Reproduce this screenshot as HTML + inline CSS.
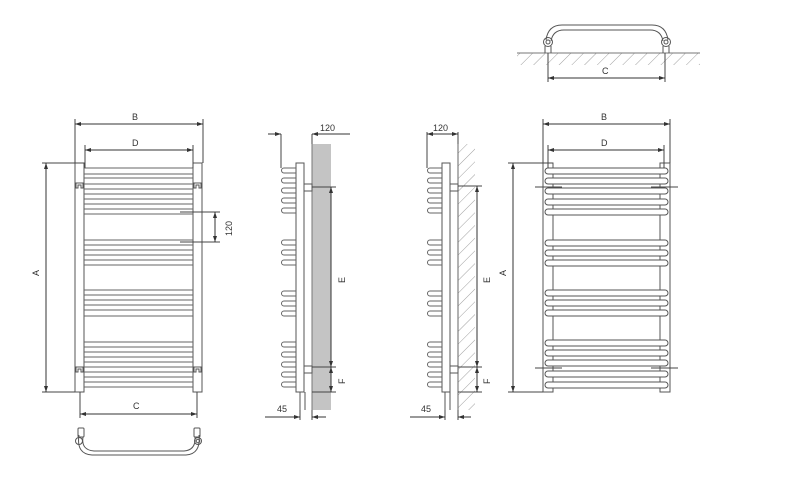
<!DOCTYPE html>
<html><head><meta charset="utf-8"><style>
html,body{margin:0;padding:0;background:#fff}
svg{display:block}
text{font-family:"Liberation Sans",sans-serif;font-size:9px;fill:#333}
</style></head><body>
<svg width="796" height="492" viewBox="0 0 796 492" xmlns="http://www.w3.org/2000/svg">
<defs>
<marker id="ar" markerWidth="6" markerHeight="6" refX="6" refY="3" orient="auto-start-reverse" markerUnits="userSpaceOnUse"><path d="M0,1 L6,3 L0,5z" fill="#333"/></marker>
<pattern id="hat" width="9" height="9" patternUnits="userSpaceOnUse" patternTransform="rotate(45)"><line x1="0" y1="0" x2="0" y2="9" stroke="#888" stroke-width="0.8"/></pattern>
</defs>
<g fill="none" stroke="#555" stroke-width="1">

<!-- ===== LEFT FRONT VIEW ===== -->
<rect x="75" y="163" width="9" height="229"/>
<rect x="193" y="163" width="9" height="229"/>
<g stroke="#666">
<path d="M84 168H193M84 174H193M84 178H193M84 184H193M84 189H193M84 194H193M84 199H193M84 204H193M84 209H193M84 214H193"/>
<path d="M84 240H193M84 245H193M84 250H193M84 255H193M84 260H193M84 265H193"/>
<path d="M84 290H193M84 295H193M84 300H193M84 305H193M84 310H193M84 316H193"/>
<path d="M84 342H193M84 347H193M84 352H193M84 357H193M84 362H193M84 367H193M84 372H193M84 377H193M84 382H193M84 387H193"/>
</g>
<!-- brackets -->
<path d="M76 188v-5h7v5h-2v-3h-3v3z"/><path d="M194 188v-5h7v5h-2v-3h-3v3z"/>
<path d="M76 372v-5h7v5h-2v-3h-3v3z"/><path d="M194 372v-5h7v5h-2v-3h-3v3z"/>
<!-- dims -->
<path d="M75 119V163M203 119V163M85 145V168M193 145V168" stroke="#444"/>
<line x1="75" y1="124" x2="203" y2="124" stroke="#333" marker-start="url(#ar)" marker-end="url(#ar)"/>
<line x1="85" y1="150" x2="193" y2="150" stroke="#333" marker-start="url(#ar)" marker-end="url(#ar)"/>
<path d="M42 163H85M42 392H75" stroke="#444"/>
<line x1="46" y1="163" x2="46" y2="392" stroke="#333" marker-start="url(#ar)" marker-end="url(#ar)"/>
<path d="M180 212H220M180 242H220" stroke="#444"/>
<line x1="215" y1="212" x2="215" y2="242" stroke="#333" marker-start="url(#ar)" marker-end="url(#ar)"/>
<path d="M80 392V418M197 392V418" stroke="#444"/>
<line x1="80" y1="414" x2="197" y2="414" stroke="#333" marker-start="url(#ar)" marker-end="url(#ar)"/>
<!-- bottom handle -->
<path d="M79 435 Q76 454 92 455 H186 Q201 454 199 435" stroke-width="1"/>
<path d="M83 437 Q81 450 94 451 H184 Q196 450 195 437"/>
<rect x="78" y="428" width="6" height="9" rx="1"/><rect x="194" y="428" width="6" height="9" rx="1"/>
<circle cx="79" cy="441" r="3.5"/><circle cx="198" cy="441" r="3.5"/><circle cx="198" cy="441" r="1.8"/>

<!-- ===== SIDE VIEW 1 (grey wall) ===== -->
<rect x="312" y="144" width="19" height="266" fill="#c4c4c4" stroke="none"/>
<line x1="312" y1="144" x2="312" y2="410" stroke="#777"/>
<rect x="296" y="163" width="8" height="229"/>
<rect x="304" y="184" width="8" height="7"/><rect x="304" y="366" width="8" height="7"/>
<path d="M300 392V410M305 392V410"/>
<g stroke="#666">
<path d="M296 168H284a2.5 2.5 0 0 0 0 5H296M296 178H284a2.5 2.5 0 0 0 0 5H296M296 188H284a2.5 2.5 0 0 0 0 5H296M296 198H284a2.5 2.5 0 0 0 0 5H296M296 208H284a2.5 2.5 0 0 0 0 5H296"/>
<path d="M296 240H284a2.5 2.5 0 0 0 0 5H296M296 250H284a2.5 2.5 0 0 0 0 5H296M296 260H284a2.5 2.5 0 0 0 0 5H296"/>
<path d="M296 291H284a2.5 2.5 0 0 0 0 5H296M296 301H284a2.5 2.5 0 0 0 0 5H296M296 311H284a2.5 2.5 0 0 0 0 5H296"/>
<path d="M296 342H284a2.5 2.5 0 0 0 0 5H296M296 352H284a2.5 2.5 0 0 0 0 5H296M296 362H284a2.5 2.5 0 0 0 0 5H296M296 372H284a2.5 2.5 0 0 0 0 5H296M296 382H284a2.5 2.5 0 0 0 0 5H296"/>
</g>
<path d="M281 134V168M312 134V144" stroke="#444"/>
<line x1="268" y1="134" x2="281" y2="134" stroke="#333" marker-end="url(#ar)"/>
<line x1="312" y1="134" x2="350" y2="134" stroke="#333" marker-start="url(#ar)"/>
<path d="M312 187H336M312 367H336M312 392H336" stroke="#444"/>
<line x1="331" y1="187" x2="331" y2="367" stroke="#333" marker-start="url(#ar)" marker-end="url(#ar)"/>
<line x1="331" y1="367" x2="331" y2="392" stroke="#333" marker-start="url(#ar)" marker-end="url(#ar)"/>
<path d="M300 410V420M312 410V420" stroke="#444"/>
<line x1="265" y1="417" x2="300" y2="417" stroke="#333" marker-end="url(#ar)"/>
<line x1="312" y1="417" x2="326" y2="417" stroke="#333" marker-start="url(#ar)"/>

<!-- ===== SIDE VIEW 2 (hatched wall) ===== -->
<rect x="458" y="144" width="17" height="266" fill="url(#hat)" stroke="none"/>
<line x1="458" y1="144" x2="458" y2="410" stroke="#666"/>
<rect x="442" y="163" width="8" height="229"/>
<rect x="450" y="184" width="8" height="7"/><rect x="450" y="366" width="8" height="7"/>
<path d="M445 392V410M450 392V410"/>
<g stroke="#666">
<path d="M442 168H430a2.5 2.5 0 0 0 0 5H442M442 178H430a2.5 2.5 0 0 0 0 5H442M442 188H430a2.5 2.5 0 0 0 0 5H442M442 198H430a2.5 2.5 0 0 0 0 5H442M442 208H430a2.5 2.5 0 0 0 0 5H442"/>
<path d="M442 240H430a2.5 2.5 0 0 0 0 5H442M442 250H430a2.5 2.5 0 0 0 0 5H442M442 260H430a2.5 2.5 0 0 0 0 5H442"/>
<path d="M442 291H430a2.5 2.5 0 0 0 0 5H442M442 301H430a2.5 2.5 0 0 0 0 5H442M442 311H430a2.5 2.5 0 0 0 0 5H442"/>
<path d="M442 342H430a2.5 2.5 0 0 0 0 5H442M442 352H430a2.5 2.5 0 0 0 0 5H442M442 362H430a2.5 2.5 0 0 0 0 5H442M442 372H430a2.5 2.5 0 0 0 0 5H442M442 382H430a2.5 2.5 0 0 0 0 5H442"/>
</g>
<path d="M427 132V168M458 132V144" stroke="#444"/>
<line x1="427" y1="134" x2="458" y2="134" stroke="#333" marker-start="url(#ar)" marker-end="url(#ar)"/>
<path d="M458 186H482M458 367H482M458 392H482" stroke="#444"/>
<line x1="477" y1="186" x2="477" y2="367" stroke="#333" marker-start="url(#ar)" marker-end="url(#ar)"/>
<line x1="477" y1="367" x2="477" y2="392" stroke="#333" marker-start="url(#ar)" marker-end="url(#ar)"/>
<path d="M445 410V420M458 410V420" stroke="#444"/>
<line x1="410" y1="417" x2="445" y2="417" stroke="#333" marker-end="url(#ar)"/>
<line x1="458" y1="417" x2="471" y2="417" stroke="#333" marker-start="url(#ar)"/>

<!-- ===== RIGHT FRONT VIEW ===== -->
<rect x="543" y="163" width="10" height="229"/>
<rect x="660" y="163" width="10" height="229"/>
<g fill="#fff" stroke="#555">
<rect x="545" y="168" width="123" height="6" rx="3"/><rect x="545" y="178" width="123" height="6" rx="3"/><rect x="545" y="188" width="123" height="6" rx="3"/><rect x="545" y="199" width="123" height="6" rx="3"/><rect x="545" y="209" width="123" height="6" rx="3"/>
<rect x="545" y="240" width="123" height="6" rx="3"/><rect x="545" y="250" width="123" height="6" rx="3"/><rect x="545" y="260" width="123" height="6" rx="3"/>
<rect x="545" y="290" width="123" height="6" rx="3"/><rect x="545" y="300" width="123" height="6" rx="3"/><rect x="545" y="310" width="123" height="6" rx="3"/>
<rect x="545" y="340" width="123" height="6" rx="3"/><rect x="545" y="350" width="123" height="6" rx="3"/><rect x="545" y="360" width="123" height="6" rx="3"/><rect x="545" y="371" width="123" height="6" rx="3"/><rect x="545" y="382" width="123" height="6" rx="3"/>
</g>
<path d="M535 187H562M651 187H678M535 368H562M651 368H678" stroke="#444"/>
<path d="M543 119V163M670 119V163M548 145V168M664 145V168" stroke="#444"/>
<line x1="543" y1="124" x2="670" y2="124" stroke="#333" marker-start="url(#ar)" marker-end="url(#ar)"/>
<line x1="548" y1="150" x2="664" y2="150" stroke="#333" marker-start="url(#ar)" marker-end="url(#ar)"/>
<path d="M508 163H553M508 392H543" stroke="#444"/>
<line x1="513" y1="163" x2="513" y2="392" stroke="#333" marker-start="url(#ar)" marker-end="url(#ar)"/>

<!-- ===== TOP VIEW C ===== -->
<rect x="517" y="53" width="183" height="12" fill="url(#hat)" stroke="none"/>
<line x1="517" y1="53" x2="700" y2="53" stroke="#777"/>
<path d="M546 40 Q548 25 562 25 H652 Q666 25 668 40"/>
<path d="M551 41 Q553 30 564 30 H650 Q661 30 663 41"/>
<circle cx="548" cy="42" r="4.5"/><circle cx="548" cy="42" r="2"/>
<circle cx="666" cy="42" r="4.5"/><circle cx="666" cy="42" r="2"/>
<path d="M545 46V53M551 46V53M663 46V53M669 46V53"/>
<path d="M548 53V82M665 53V82" stroke="#444"/>
<line x1="548" y1="78" x2="665" y2="78" stroke="#333" marker-start="url(#ar)" marker-end="url(#ar)"/>
</g>

<!-- labels -->
<text x="132" y="120">B</text>
<text x="132" y="146">D</text>
<text x="133" y="409">C</text>
<text x="0" y="0" transform="translate(39,276) rotate(-90)">A</text>
<text x="0" y="0" transform="translate(232,236) rotate(-90)">120</text>
<text x="320" y="131">120</text>
<text x="0" y="0" transform="translate(345,283) rotate(-90)">E</text>
<text x="0" y="0" transform="translate(345,384) rotate(-90)">F</text>
<text x="277" y="412">45</text>
<text x="433" y="131">120</text>
<text x="0" y="0" transform="translate(490,283) rotate(-90)">E</text>
<text x="0" y="0" transform="translate(490,384) rotate(-90)">F</text>
<text x="0" y="0" transform="translate(506,276) rotate(-90)">A</text>
<text x="421" y="412">45</text>
<text x="601" y="120">B</text>
<text x="601" y="146">D</text>
<text x="602" y="74">C</text>
</svg>
</body></html>
